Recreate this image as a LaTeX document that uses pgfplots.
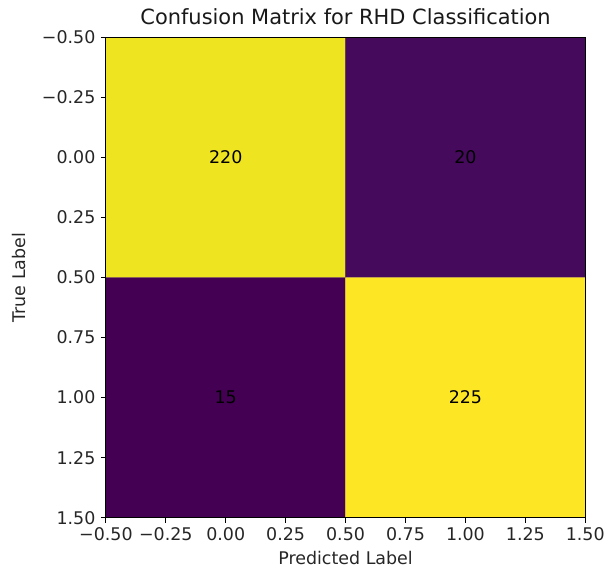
\documentclass[border=0pt]{standalone}
\usepackage{fontspec}
\setmainfont{DejaVu Sans}
\usepackage{pgfplots}
\pgfplotsset{compat=1.18}
\begin{document}
\begin{tikzpicture}
\begin{axis}[
  scale only axis,
  width=481pt, height=482pt,
  xmin=-0.5, xmax=1.5, ymin=-0.5, ymax=1.5,
  y dir=reverse,
  enlargelimits=false,
  axis on top,
  colormap/viridis,
  point meta min=15, point meta max=225,
  xtick={-0.5,-0.25,0,0.25,0.5,0.75,1,1.25,1.5},
  ytick={-0.5,-0.25,0,0.25,0.5,0.75,1,1.25,1.5},
  xticklabels={−0.50,−0.25,0.00,0.25,0.50,0.75,1.00,1.25,1.50},
  yticklabels={−0.50,−0.25,0.00,0.25,0.50,0.75,1.00,1.25,1.50},
  tick align=outside,
  tick pos=left,
  major tick length=5pt,
  tick style={black, line width=1pt},
  axis line style={line width=1pt},
  ticklabel style={font=\fontsize{17.5}{19}\selectfont, text=black!85},
  xticklabel style={yshift=-1pt},
  yticklabel style={xshift=-2pt},
  xlabel={Predicted Label},
  ylabel={True Label},
  label style={font=\fontsize{17.5}{19}\selectfont, text=black!85},
  xlabel style={yshift=-4pt},
  ylabel style={inner ysep=12pt, yshift=1pt},
  title={Confusion Matrix for RHD Classification},
  title style={font=\fontsize{21}{23}\selectfont, text=black!90, inner ysep=9pt, yshift=-3pt},
]
\addplot[matrix plot*, mesh/cols=2, mesh/ordering=x varies, point meta=explicit]
  table[meta=C] {
x y C
0 0 220
1 0 20
0 1 15
1 1 225
};
\addplot[only marks, mark=none, nodes near coords, point meta=explicit symbolic,
  nodes near coords style={font=\fontsize{17.5}{19}\selectfont, text=black, anchor=center}]
  table[meta=L] {
x y L
0 0 220
1 0 20
0 1 15
1 1 225
};
\end{axis}
\end{tikzpicture}
\end{document}
